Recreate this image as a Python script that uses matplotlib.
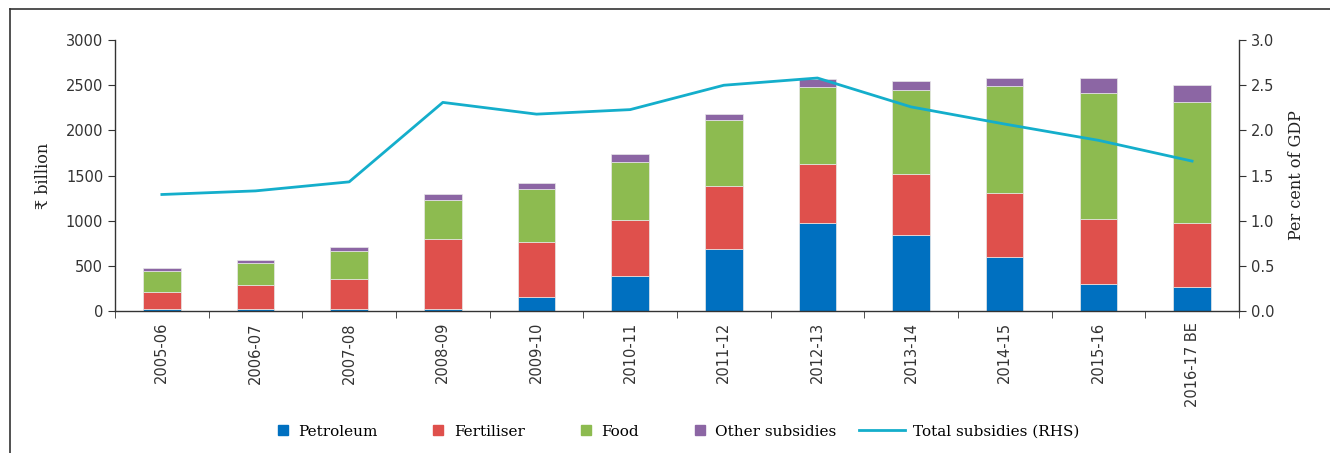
import numpy as np
import matplotlib.pyplot as plt
from matplotlib.lines import Line2D
from matplotlib.legend_handler import HandlerLine2D

years = ['2005-06', '2006-07', '2007-08', '2008-09', '2009-10', '2010-11',
         '2011-12', '2012-13', '2013-14', '2014-15', '2015-16', '2016-17 BE']
petroleum = [20, 20, 25, 25, 150, 383, 686, 969, 847, 601, 299, 265]
fertiliser = [186, 268, 325, 772, 609, 624, 697, 657, 675, 711, 722, 704]
food = [240, 243, 317, 434, 594, 641, 733, 855, 926, 1180, 1397, 1350]
other = [30, 36, 41, 67, 63, 89, 67, 88, 99, 92, 159, 184]
total_pct_gdp = [1.29, 1.33, 1.43, 2.31, 2.18, 2.23, 2.50, 2.58, 2.26, 2.07, 1.89, 1.66]

colors = {'Petroleum': '#0070C0', 'Fertiliser': '#DF504C',
          'Food': '#8DBB50', 'Other subsidies': '#8C66A4'}
line_color = '#14AECB'

serif = ['DejaVu Serif', 'DejaVu Sans']


class LongLine(HandlerLine2D):
    # stretch the line handle to the left so it is longer than the square ones
    def create_artists(self, legend, orig_handle, xdescent, ydescent,
                       width, height, fontsize, trans):
        extra = 2.0 * fontsize
        return super().create_artists(legend, orig_handle, xdescent + extra,
                                      ydescent, width + extra, height,
                                      fontsize, trans)


fig = plt.figure(figsize=(13.3, 4.53), dpi=100)
ax = fig.add_axes([0.0865, 0.3135, 0.845, 0.598])
ax2 = ax.twinx()

x = np.arange(len(years))
bottom = np.zeros(len(years))
for name, vals in [('Petroleum', petroleum), ('Fertiliser', fertiliser),
                   ('Food', food), ('Other subsidies', other)]:
    ax.bar(x, vals, width=0.4, bottom=bottom, color=colors[name],
           edgecolor='#e8e8e8', linewidth=0.5, zorder=2)
    bottom += np.array(vals)

ax2.plot(x, total_pct_gdp, color=line_color, linewidth=2.0, zorder=3)

ax.set_xlim(-0.5, len(years) - 0.5)
ax.set_ylim(0, 3000)
ax2.set_ylim(0, 3.0)
ax.set_yticks(np.arange(0, 3001, 500))
ax2.set_yticks(np.arange(0, 3.01, 0.5))
ax2.set_yticklabels(['%.1f' % v for v in np.arange(0, 3.01, 0.5)])

# category labels at centres, tick marks at boundaries
ax.set_xticks(x)
ax.set_xticklabels(years, rotation=90, fontsize=10.5, color='#333333')
ax.tick_params(axis='x', length=0, pad=8)
ax.set_xticks(np.arange(-0.5, len(years), 1), minor=True)
ax.tick_params(axis='x', which='minor', length=5, direction='out', color='#333333')

ax.tick_params(axis='y', length=5, direction='out', labelsize=10.5,
               labelcolor='#333333', color='#333333')
ax2.tick_params(axis='y', length=5, direction='out', labelsize=10.5,
                labelcolor='#333333', color='#333333')

for a in (ax, ax2):
    a.spines['top'].set_visible(False)
    for s in ('left', 'right', 'bottom'):
        a.spines[s].set_color('#333333')
        a.spines[s].set_linewidth(1.0)
ax2.spines['left'].set_visible(False)
ax2.spines['bottom'].set_visible(False)
ax.spines['right'].set_visible(False)

ax.set_ylabel('₹ billion', family=serif, fontsize=11.5, color='#222222', labelpad=10)
ax2.set_ylabel('Per cent of GDP', family=serif, fontsize=11.5, color='#222222', labelpad=10)

handles = [Line2D([], [], marker='s', linestyle='none', markersize=7,
                  color=colors[n]) for n in colors]
line_handle = Line2D([], [], color=line_color, linewidth=2.0)
handles.append(line_handle)
labels = list(colors) + ['Total subsidies (RHS)']
fig.legend(handles, labels, loc='center', bbox_to_anchor=(0.509, 0.047),
           ncol=5, frameon=False, handlelength=1.0, handletextpad=0.5,
           columnspacing=3.5, prop={'family': serif, 'size': 11},
           handler_map={line_handle: LongLine()})

# frame lines (left and top) around the figure
fig.add_artist(Line2D([10 / 1330, 10 / 1330], [0, 1 - 9 / 453],
                      transform=fig.transFigure, color='#333333', linewidth=1.2))
fig.add_artist(Line2D([10 / 1330, 1], [1 - 9 / 453, 1 - 9 / 453],
                      transform=fig.transFigure, color='#333333', linewidth=1.2))

fig.savefig('out.png', dpi=100)
